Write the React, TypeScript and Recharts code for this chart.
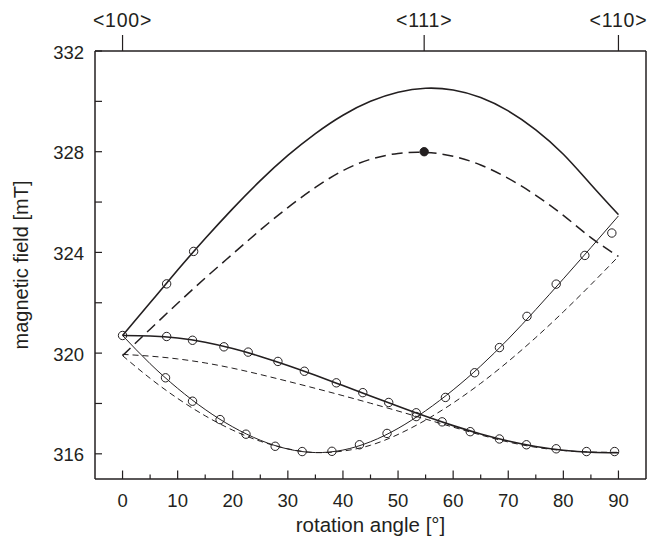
import React from 'react';
import { ComposedChart, Line, Scatter, XAxis, YAxis, ReferenceLine } from 'recharts';

// ---- data ----
const curveAngles = [0, 5, 10, 15, 20, 25, 30, 35, 40, 45, 50, 55, 60, 65, 70, 75, 80, 85, 90];
const upperFit = [320.7, 322.0, 323.3, 324.55, 325.74, 326.85, 327.85, 328.72, 329.45, 330.0, 330.36, 330.52, 330.45, 330.15, 329.62, 328.87, 327.9, 326.7, 325.5];
const upperCalc = [319.9, 320.95, 321.98, 322.98, 323.94, 324.89, 325.78, 326.58, 327.25, 327.7, 327.93, 327.97, 327.82, 327.47, 326.94, 326.27, 325.47, 324.59, 323.84];
const lowerFit = [320.7, 319.58, 318.6, 317.76, 317.07, 316.54, 316.19, 316.05, 316.15, 316.48, 317.01, 317.71, 318.54, 319.49, 320.56, 321.73, 322.95, 324.19, 325.45];
const lowerCalc = [319.9, 319.0, 318.2, 317.51, 316.94, 316.5, 316.2, 316.05, 316.11, 316.34, 316.77, 317.34, 318.02, 318.8, 319.67, 320.62, 321.64, 322.72, 323.84];
const middleFit = [320.7, 320.68, 320.6, 320.43, 320.18, 319.87, 319.51, 319.12, 318.71, 318.3, 317.89, 317.49, 317.12, 316.79, 316.51, 316.29, 316.14, 316.06, 316.04];
const middleCalc = [319.95, 319.88, 319.77, 319.61, 319.4, 319.15, 318.88, 318.6, 318.31, 318.01, 317.7, 317.38, 317.06, 316.75, 316.47, 316.26, 316.13, 316.07, 316.06];

const upperObsAngles = [8.0, 12.9];
const upperObsField = [322.75, 324.04];
const middleObsAngles = [0, 8.0, 12.7, 18.4, 22.8, 28.2, 33.0, 38.8, 43.6, 48.3, 53.3, 58.0, 63.1, 68.4, 73.3, 78.7, 84.2, 89.3];
const middleObsField = [320.7, 320.66, 320.51, 320.25, 320.04, 319.67, 319.28, 318.82, 318.43, 318.04, 317.63, 317.27, 316.88, 316.59, 316.36, 316.2, 316.09, 316.09];
const lowerObsAngles = [7.8, 12.7, 17.7, 22.4, 27.7, 32.6, 38.0, 43.0, 48.0, 53.3, 58.6, 63.9, 68.4, 73.4, 78.7, 83.9, 88.8];
const lowerObsField = [319.02, 318.09, 317.36, 316.78, 316.3, 316.09, 316.1, 316.36, 316.81, 317.48, 318.24, 319.22, 320.22, 321.46, 322.74, 323.88, 324.77];
const calcPointAngles = [54.74];
const calcPointField = [328.0];

const xTicks = [0, 5, 10, 15, 20, 25, 30, 35, 40, 45, 50, 55, 60, 65, 70, 75, 80, 85, 90];
const yTicks = [316, 318, 320, 322, 324, 326, 328, 330, 332];
const yLabelled = [316, 320, 324, 328, 332];
const topTicks = [0, 54.74, 90];
const topTickLabels = ['<100>', '<111>', '<110>'];

const pts = (xs: number[], ys: number[]) => xs.map((x, i) => ({ x, y: ys[i] }));

const INK = '#231f20';
const FONT = '"Liberation Sans", Arial, Helvetica, sans-serif';

const BottomTick = (props: any) => {
  const { x, y, payload } = props;
  const v = payload.value;
  const major = v % 10 === 0;
  return (
    <g>
      <line x1={x} x2={x} y1={y} y2={y - (major ? 8.5 : 4.5)} stroke={INK} strokeWidth={1.2} />
      {major && (
        <text x={x} y={y + 15} dy="0.71em" textAnchor="middle" fontSize={18.5} fontFamily={FONT} fill={INK}>
          {v}
        </text>
      )}
    </g>
  );
};

const LeftTick = (props: any) => {
  const { x, y, payload } = props;
  const v = payload.value;
  const labelled = yLabelled.includes(v);
  return (
    <g>
      <line x1={x} x2={x + 7} y1={y} y2={y} stroke={INK} strokeWidth={1.2} />
      {labelled && (
        <text x={x - 11} y={y + 1} dy="0.355em" textAnchor="end" fontSize={18.5} fontFamily={FONT} fill={INK}>
          {v}
        </text>
      )}
    </g>
  );
};

const TopTick = (props: any) => {
  const { x, y, payload } = props;
  const idx = topTicks.indexOf(payload.value);
  return (
    <g>
      <line x1={x} x2={x} y1={y} y2={y - 16} stroke={INK} strokeWidth={1.2} />
      <text x={x} y={y - 24} textAnchor="middle" fontSize={19.5} letterSpacing={0.8} fontFamily={FONT} fill={INK}>
        {idx >= 0 ? topTickLabels[idx] : ''}
      </text>
    </g>
  );
};

const OpenCircle = (props: any) => {
  const { cx, cy } = props;
  if (cx == null || cy == null) return <g />;
  return <circle cx={cx} cy={cy} r={4.2} fill="none" stroke={INK} strokeWidth={1} />;
};

const FilledCircle = (props: any) => {
  const { cx, cy } = props;
  if (cx == null || cy == null) return <g />;
  return <circle cx={cx} cy={cy} r={4.2} fill={INK} stroke={INK} strokeWidth={1} />;
};

export default function App() {
  const common = {
    xAxisId: 'bottom',
    yAxisId: 'left',
    dataKey: 'y',
    type: 'natural' as const,
    dot: false,
    activeDot: false,
    isAnimationActive: false,
    stroke: INK,
  };
  return (
    <div style={{ position: 'absolute', left: 0, top: 0, background: '#fff' }}>
      <ComposedChart width={650} height={547} margin={{ top: 0, right: 4, bottom: 0, left: 0 }}>
        <XAxis
          xAxisId="bottom"
          type="number"
          dataKey="x"
          domain={[-5, 95]}
          allowDataOverflow
          ticks={xTicks}
          interval={0}
          tickSize={0}
          tickMargin={0}
          tickLine={false}
          tick={<BottomTick />}
          axisLine={{ stroke: INK, strokeWidth: 1.5 }}
          height={68}
          label={{
            value: 'rotation angle [°]',
            position: 'insideBottom',
            offset: 15,
            style: { fontSize: 20.5, fontFamily: FONT, fill: INK },
          }}
        />
        <XAxis
          xAxisId="top"
          orientation="top"
          type="number"
          dataKey="x"
          domain={[-5, 95]}
          allowDataOverflow
          ticks={topTicks}
          interval={0}
          tickSize={0}
          tickMargin={0}
          tickLine={false}
          tick={<TopTick />}
          axisLine={{ stroke: INK, strokeWidth: 1.5 }}
          height={51}
        />
        <YAxis
          yAxisId="left"
          type="number"
          dataKey="y"
          domain={[315, 332]}
          allowDataOverflow
          ticks={yTicks}
          interval={0}
          tickSize={0}
          tickMargin={0}
          tickLine={false}
          tick={<LeftTick />}
          axisLine={{ stroke: INK, strokeWidth: 1.5 }}
          width={95}
          label={{
            value: 'magnetic field [mT]',
            angle: -90,
            position: 'insideLeft',
            offset: 21,
            style: { fontSize: 20, fontFamily: FONT, fill: INK, textAnchor: 'middle' },
          }}
        />
        <ReferenceLine xAxisId="bottom" yAxisId="left" x={95} stroke={INK} strokeWidth={1.5} />

        {/* invisible series so the top orientation axis gets its ticks */}
        <Line xAxisId="top" yAxisId="left" dataKey="y" data={pts(curveAngles, upperFit)} stroke="none" dot={false} activeDot={false} isAnimationActive={false} />

        <Line {...common} data={pts(curveAngles, upperFit)} strokeWidth={1.6} />
        <Line {...common} data={pts(curveAngles, middleFit)} strokeWidth={1.6} />
        <Line {...common} data={pts(curveAngles, lowerFit)} strokeWidth={1} />
        <Line {...common} data={pts(curveAngles, upperCalc)} strokeWidth={1.5} strokeDasharray="11 6" />
        <Line {...common} data={pts(curveAngles, middleCalc)} strokeWidth={1} strokeDasharray="6 4" />
        <Line {...common} data={pts(curveAngles, lowerCalc)} strokeWidth={1} strokeDasharray="6 4" />

        <Scatter xAxisId="bottom" yAxisId="left" data={pts(upperObsAngles, upperObsField)} shape={OpenCircle} isAnimationActive={false} />
        <Scatter xAxisId="bottom" yAxisId="left" data={pts(middleObsAngles, middleObsField)} shape={OpenCircle} isAnimationActive={false} />
        <Scatter xAxisId="bottom" yAxisId="left" data={pts(lowerObsAngles, lowerObsField)} shape={OpenCircle} isAnimationActive={false} />
        <Scatter xAxisId="bottom" yAxisId="left" data={pts(calcPointAngles, calcPointField)} shape={FilledCircle} isAnimationActive={false} />
      </ComposedChart>
    </div>
  );
}
